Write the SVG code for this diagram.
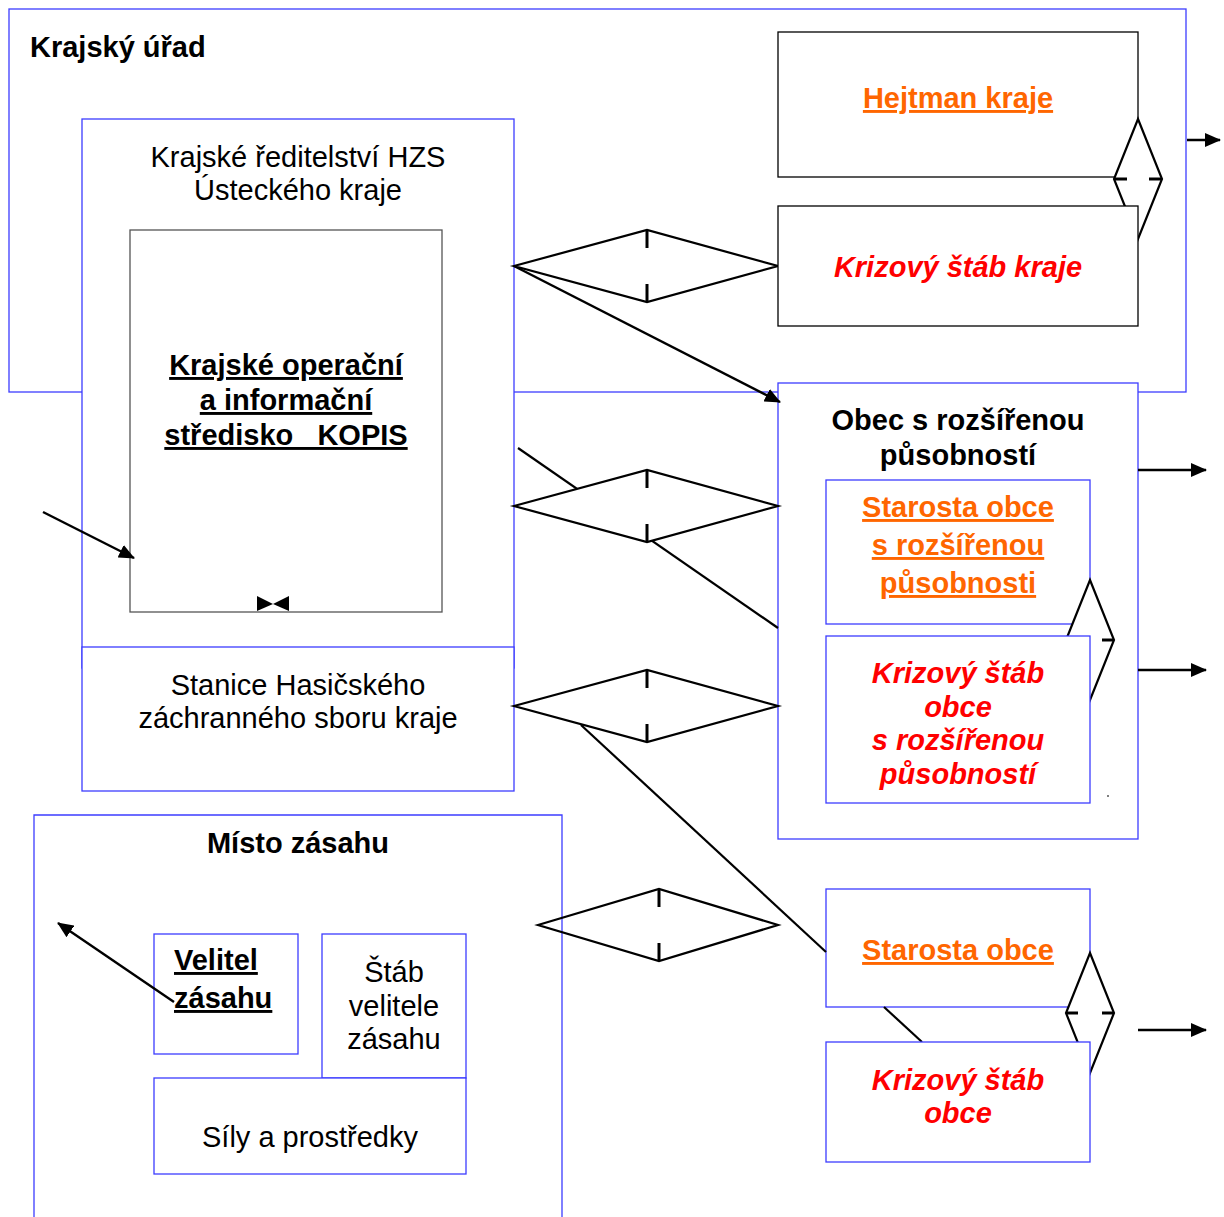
<svg xmlns="http://www.w3.org/2000/svg" width="1224" height="1217" viewBox="0 0 1224 1217">
<style>
text{font-family:"Liberation Sans",Arial,sans-serif;font-size:29px;fill:#000}
.c{text-anchor:middle}
.b{font-weight:bold}
.u{text-decoration:underline;text-decoration-thickness:3px}
.or{fill:#ff6600}
.rd{fill:#ff0000;font-weight:bold;font-style:italic}
.bx{fill:#fff;stroke:#3c3cff;stroke-width:1.3}
.kx{fill:#fff;stroke:#000;stroke-width:1.3}
.ln{fill:none;stroke:#000;stroke-width:2.2}
.dm{fill:#fff;stroke:#000;stroke-width:2.2;stroke-linejoin:miter}
.dn{fill:none;stroke:#000;stroke-width:2.2}
.tk{stroke:#000;stroke-width:3}
.ar{fill:none;stroke:#000;stroke-width:2.4;marker-end:url(#ah)}
</style>
<defs>
<marker id="ah" viewBox="0 0 16 14" refX="15" refY="7" markerWidth="16" markerHeight="14" markerUnits="userSpaceOnUse" orient="auto">
<path d="M0,0 L16,7 L0,14 z" fill="#000"/>
</marker>
</defs>
<rect width="1224" height="1217" fill="#fff"/>

<g id="krajsky-urad">
<rect class="bx" x="9" y="9" width="1177" height="383"/>
<text class="b" x="30" y="57">Krajský úřad</text>
</g>
<g id="krajske-reditelstvi">
<rect class="bx" x="82" y="119" width="432" height="549"/>
<text class="c" x="298" y="167">Krajské ředitelství HZS</text>
<text class="c" x="298" y="200">Ústeckého kraje</text>
</g>
<g id="kopis">
<rect x="130" y="230" width="312" height="382" fill="#fff" stroke="#555" stroke-width="1.3"/>
<text class="c b u" x="286" y="375">Krajské operační</text>
<text class="c b u" x="286" y="410">a informační</text>
<text class="c b u" x="286" y="445" style="white-space:pre">středisko   KOPIS</text>
</g>
<g id="stanice">
<rect class="bx" x="82" y="647" width="432" height="144"/>
<text class="c" x="298" y="695">Stanice Hasičského</text>
<text class="c" x="298" y="728">záchranného sboru kraje</text>
</g>
<g id="misto-zasahu">
<path class="bx" d="M34,1218 V815 H562 V1218"/>
<text class="c b" x="298" y="853">Místo zásahu</text>
</g>
<g id="velitel-zasahu">
<rect class="bx" x="154" y="934" width="144" height="120"/>
<text class="b u" x="174" y="970">Velitel</text>
<text class="b u" x="174" y="1008">zásahu</text>
</g>
<g id="stab-velitele">
<rect class="bx" x="322" y="934" width="144" height="144"/>
<text class="c" x="394" y="982">Štáb</text>
<text class="c" x="394" y="1016">velitele</text>
<text class="c" x="394" y="1049">zásahu</text>
</g>
<g id="sily-prostredky">
<rect class="bx" x="154" y="1078" width="312" height="96"/>
<text class="c" x="310" y="1147">Síly a prostředky</text>
</g>
<g id="hejtman">
<rect class="kx" x="778" y="32" width="360" height="145"/>
<text class="c b u or" x="958" y="108">Hejtman kraje</text>
</g>
<g id="obec-rozsirena">
<rect class="bx" x="778" y="383" width="360" height="456"/>
<text class="c b" x="958" y="430">Obec s rozšířenou</text>
<text class="c b" x="958" y="465">působností</text>
</g>
<g id="starosta-orp">
<rect class="bx" x="826" y="480" width="264" height="144"/>
<text class="c b u or" x="958" y="517">Starosta obce</text>
<text class="c b u or" x="958" y="555">s rozšířenou</text>
<text class="c b u or" x="958" y="593">působnosti</text>
</g>
<g id="starosta-obce">
<rect class="bx" x="826" y="889" width="264" height="118"/>
<text class="c b u or" x="958" y="960">Starosta obce</text>
</g>

<g id="connectors">
<line class="ln" x1="518" y1="448" x2="778" y2="628"/>
<line class="ln" x1="581" y1="725" x2="826" y2="952"/>
<line class="ln" x1="884" y1="1007" x2="922" y2="1042"/>
<line class="ar" x1="514" y1="266" x2="780" y2="402"/>
<polygon class="dm" points="514,266 647,230 778,266 647,302"/>
<line class="tk" x1="647" y1="230" x2="647" y2="248"/>
<line class="tk" x1="647" y1="284" x2="647" y2="302"/>
<polygon class="dm" points="514,506 647,470 778,506 647,542"/>
<line class="tk" x1="647" y1="470" x2="647" y2="488"/>
<line class="tk" x1="647" y1="524" x2="647" y2="542"/>
<polygon class="dm" points="514,706 647,670 778,706 647,742"/>
<line class="tk" x1="647" y1="670" x2="647" y2="688"/>
<line class="tk" x1="647" y1="724" x2="647" y2="742"/>
<polygon class="dn" points="538,925 659,889 778,925 659,961"/>
<line class="tk" x1="659" y1="889" x2="659" y2="907"/>
<line class="tk" x1="659" y1="943" x2="659" y2="961"/>
<polygon class="dm" points="1138,119 1162,179 1138,239 1114,179"/>
<line class="tk" x1="1114" y1="179" x2="1127" y2="179"/>
<line class="tk" x1="1149" y1="179" x2="1162" y2="179"/>
<polygon class="dm" points="1090,580 1114,640 1090,700 1066,640"/>
<line class="tk" x1="1066" y1="640" x2="1078" y2="640"/>
<line class="tk" x1="1102" y1="640" x2="1114" y2="640"/>
<polygon class="dm" points="1090,953 1114,1013 1090,1073 1066,1013"/>
<line class="tk" x1="1066" y1="1013" x2="1078" y2="1013"/>
<line class="tk" x1="1102" y1="1013" x2="1114" y2="1013"/>
<line class="ar" x1="1187" y1="140" x2="1220" y2="140"/>
<line class="ar" x1="1138" y1="470" x2="1206" y2="470"/>
<line class="ar" x1="1138" y1="670" x2="1206" y2="670"/>
<line class="ar" x1="1138" y1="1030" x2="1206" y2="1030"/>
<line class="ar" x1="43" y1="512" x2="134" y2="558"/>
<line class="ar" x1="174" y1="1002" x2="58" y2="923"/>
<polygon points="257,596 257,611 273,604" fill="#000"/>
<polygon points="289,596 289,611 273,604" fill="#000"/>
<circle cx="1108" cy="796" r="1" fill="#555"/>
</g>

<g id="krizovy-stab-kraje">
<rect class="kx" x="778" y="206" width="360" height="120"/>
<text class="c rd" x="958" y="277">Krizový štáb kraje</text>
</g>
<g id="krizovy-stab-orp">
<rect class="bx" x="826" y="636" width="264" height="167"/>
<text class="c rd" x="958" y="683">Krizový štáb</text>
<text class="c rd" x="958" y="717">obce</text>
<text class="c rd" x="958" y="750">s rozšířenou</text>
<text class="c rd" x="958" y="784">působností</text>
</g>
<g id="krizovy-stab-obce">
<rect class="bx" x="826" y="1042" width="264" height="120"/>
<text class="c rd" x="958" y="1090">Krizový štáb</text>
<text class="c rd" x="958" y="1123">obce</text>
</g>
</svg>
